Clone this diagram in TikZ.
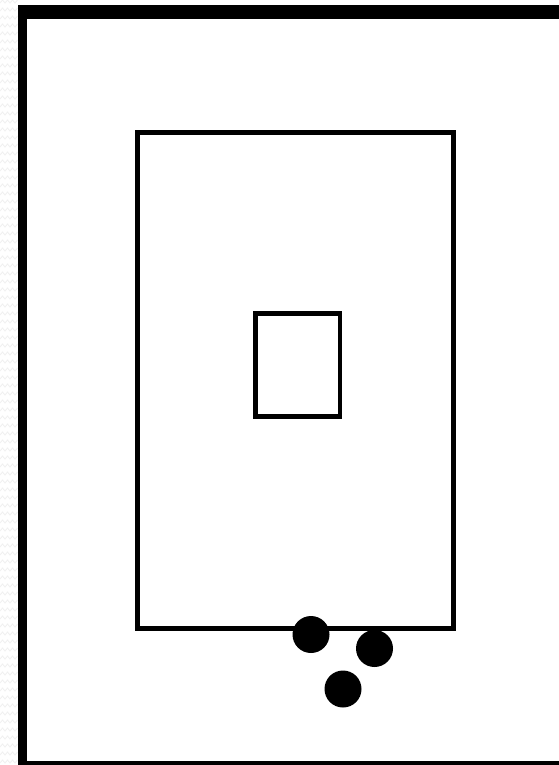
\documentclass[tikz,border=0pt]{standalone}
\begin{document}
\begin{tikzpicture}[x=1pt,y=-1pt,
  frame/.style={fill=black},
  box/.style={draw=black,line width=5pt,fill=none},
  dot/.style={fill=black}]
\useasboundingbox (0,0) rectangle (559,765);
\fill[white] (0,0) rectangle (559,765);
% faint zigzag strip at the left
\foreach \yy in {0,8,...,765}{
  \draw[gray!12,line width=0.8pt] (0,\yy+3) -- (2.5,\yy) -- (5,\yy+3) -- (7.5,\yy) -- (10,\yy+3) -- (12.5,\yy) -- (15,\yy+3) -- (17.5,\yy);
}
% outer frame
\fill[frame] (17.7,4.8) rectangle (559,18.6);
\fill[frame] (17.7,4.8) rectangle (26.7,765);
\fill[frame] (17.7,761) rectangle (559,765);
% big rectangle
\draw[box] (137.5,132.5) rectangle (453.5,628);
% small rectangle
\draw[box,line width=4.5pt] (255.5,313.5) rectangle (340,416.5);
% dots
\fill[dot] (311,634.5) circle (18.5pt);
\fill[dot] (374.5,648.5) circle (18.5pt);
\fill[dot] (343,689) circle (18.5pt);
\end{tikzpicture}
\end{document}
